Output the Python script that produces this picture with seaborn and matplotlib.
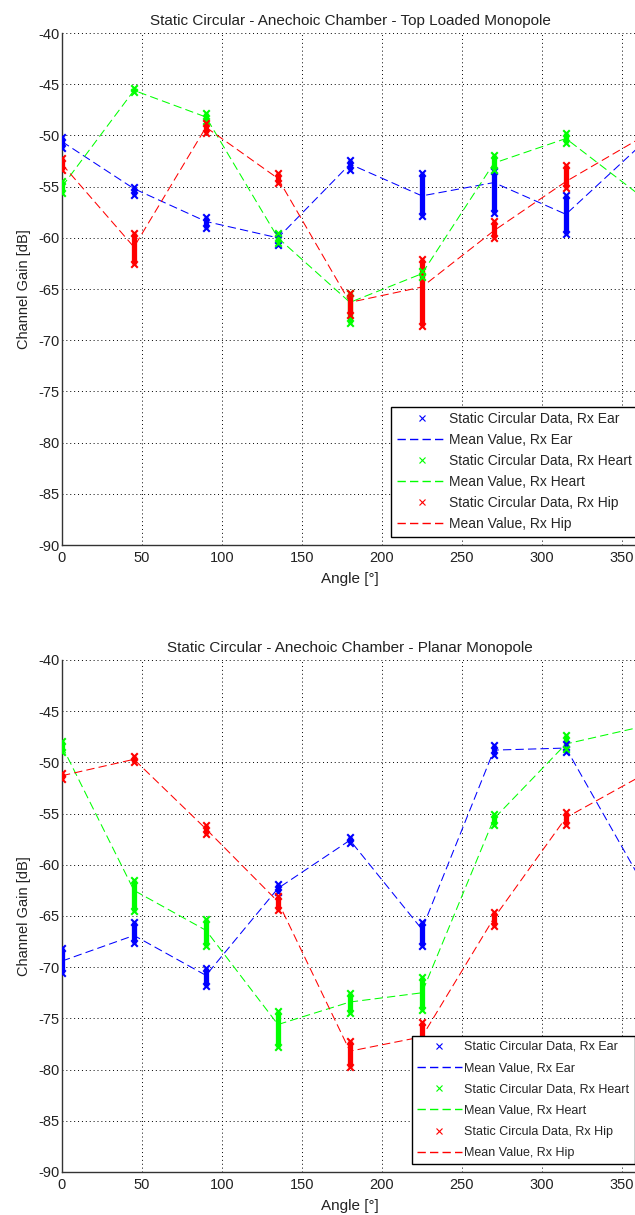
import matplotlib
matplotlib.use("Agg")
import matplotlib.pyplot as plt
from matplotlib.lines import Line2D
import numpy as np
import pandas as pd
import seaborn as sns

sns.set_style("white")
plt.rcParams["font.family"] = ["Liberation Sans", "DejaVu Sans"]
plt.rcParams["axes.unicode_minus"] = False

# Measurement angles (deg); the mean curve also closes at 360
angles = [0, 45, 90, 135, 180, 225, 270, 315]
angles_closed = [0, 45, 90, 135, 180, 225, 270, 315, 360]

# ---- Top loaded monopole ----
tl_ear_mean = [-50.6, -55.2, -58.4, -60.0, -52.8, -55.9, -54.6, -57.7, -51.2]
tl_ear_lo = [-51.2, -55.8, -59.0, -60.7, -53.4, -57.9, -57.6, -59.6]
tl_ear_hi = [-50.2, -55.0, -58.0, -59.6, -52.4, -53.7, -53.5, -55.8]

tl_heart_mean = [-55.0, -45.6, -48.2, -60.0, -66.3, -63.5, -52.7, -50.3, -55.7]
tl_heart_lo = [-55.6, -45.8, -48.6, -60.5, -68.3, -63.8, -53.4, -50.7]
tl_heart_hi = [-54.4, -45.4, -47.8, -59.5, -65.4, -63.2, -51.9, -49.8]

tl_hip_mean = [-52.8, -60.9, -49.2, -54.2, -66.3, -64.8, -59.3, -54.5, -50.4]
tl_hip_lo = [-53.4, -62.6, -49.8, -54.6, -67.5, -68.6, -60.0, -55.1]
tl_hip_hi = [-52.2, -59.5, -48.8, -53.7, -65.4, -62.1, -58.4, -52.9]

# ---- Planar monopole ----
pl_ear_mean = [-69.4, -66.9, -70.8, -62.3, -57.6, -66.3, -48.8, -48.6, -61.0]
pl_ear_lo = [-70.6, -67.6, -71.8, -62.7, -57.9, -67.9, -49.3, -49.0]
pl_ear_hi = [-68.1, -65.6, -70.1, -61.9, -57.3, -65.6, -48.3, -48.2]

pl_heart_mean = [-48.4, -62.5, -66.4, -75.6, -73.4, -72.5, -55.5, -48.2, -46.6]
pl_heart_lo = [-49.0, -64.5, -67.9, -77.8, -74.5, -74.2, -56.1, -48.7]
pl_heart_hi = [-47.9, -61.5, -65.3, -74.3, -72.5, -71.0, -55.0, -47.3]

pl_hip_mean = [-51.3, -49.7, -56.5, -63.6, -78.2, -76.8, -65.2, -55.4, -51.5]
pl_hip_lo = [-51.6, -50.0, -57.0, -64.4, -79.7, -78.0, -66.0, -56.1]
pl_hip_hi = [-51.0, -49.4, -56.1, -63.0, -77.2, -75.4, -64.6, -54.8]

colors = {"Ear": "#0000ff", "Heart": "#00ff00", "Hip": "#ff0000"}

titles = ["Static Circular - Anechoic Chamber - Top Loaded Monopole",
          "Static Circular - Anechoic Chamber - Planar Monopole"]
data_labels = [
    ["Static Circular Data, Rx Ear", "Static Circular Data, Rx Heart", "Static Circular Data, Rx Hip"],
    ["Static Circular Data, Rx Ear", "Static Circular Data, Rx Heart", "Static Circula Data, Rx Hip"],
]
mean_labels = ["Mean Value, Rx Ear", "Mean Value, Rx Heart", "Mean Value, Rx Hip"]

panels = [
    [("Ear", tl_ear_mean, tl_ear_lo, tl_ear_hi),
     ("Heart", tl_heart_mean, tl_heart_lo, tl_heart_hi),
     ("Hip", tl_hip_mean, tl_hip_lo, tl_hip_hi)],
    [("Ear", pl_ear_mean, pl_ear_lo, pl_ear_hi),
     ("Heart", pl_heart_mean, pl_heart_lo, pl_heart_hi),
     ("Hip", pl_hip_mean, pl_hip_lo, pl_hip_hi)],
]

fig = plt.figure(figsize=(6.35, 12.15), dpi=100)
ax_rects = [[0.0976, 0.5514, 0.907, 0.4214],
            [0.0976, 0.0354, 0.907, 0.4214]]
legend_fs = [10.0, 9.0]
legend_ls = [0.5, 0.74]
legend_anchor = [(1.012, 0.003), (1.005, 0.003)]

lw = 0.75
txt = "#222222"

for p, series in enumerate(panels):
    ax = fig.add_axes(ax_rects[p])
    handles = []
    for i, (name, mean, lo, hi) in enumerate(series):
        c = colors[name]
        pts = pd.DataFrame({"angle": angles + angles, "gain": lo + hi})
        ax.vlines(angles, lo, hi, colors=c, linewidth=3.8, zorder=3)
        sns.scatterplot(data=pts, x="angle", y="gain", marker="x", color=c,
                        s=22, linewidth=1.5, ax=ax, zorder=4, legend=False)
        line_df = pd.DataFrame({"angle": angles_closed, "gain": mean})
        sns.lineplot(data=line_df, x="angle", y="gain", color=c, linewidth=lw,
                     linestyle="--", ax=ax, zorder=2, legend=False)
        ax.lines[-1].set_dashes((8, 4))
        handles.append(Line2D([], [], color=c, marker="x", linestyle="none",
                              markersize=4.5, markeredgewidth=0.8,
                              label=data_labels[p][i]))
        handles.append(Line2D([], [], color=c, linewidth=1.0, dashes=(6, 3),
                              label=mean_labels[i]))

    ax.set_xlim(0, 360)
    ax.set_ylim(-90, -40)
    ax.set_xticks(np.arange(0, 351, 50))
    ax.set_yticks(np.arange(-90, -39, 5))
    ax.grid(True, color="black", linestyle=(0, (1, 3)), linewidth=0.7)
    ax.set_axisbelow(True)
    for side in ["top", "right"]:
        ax.spines[side].set_visible(False)
    for side in ["left", "bottom"]:
        ax.spines[side].set_color("#333333")
        ax.spines[side].set_linewidth(1.0)
    ax.tick_params(direction="in", length=3, width=0.6, labelsize=10.5,
                   colors=txt, pad=2)
    ax.tick_params(axis="x", pad=4.5)
    ax.set_title(titles[p], fontsize=11, pad=6, color=txt)
    ax.set_xlabel("Angle [°]", fontsize=11, labelpad=5, color=txt)
    ax.set_ylabel("Channel Gain [dB]", fontsize=10.5, labelpad=5, color=txt)

    leg = ax.legend(handles=handles, loc="lower right", bbox_to_anchor=legend_anchor[p],
                    fontsize=legend_fs[p], labelspacing=legend_ls[p], handlelength=3.6,
                    handletextpad=0.2, borderpad=0.4, fancybox=False,
                    framealpha=1, edgecolor="black")
    leg.get_frame().set_linewidth(1.0)

fig.savefig("out.png", dpi=100)
